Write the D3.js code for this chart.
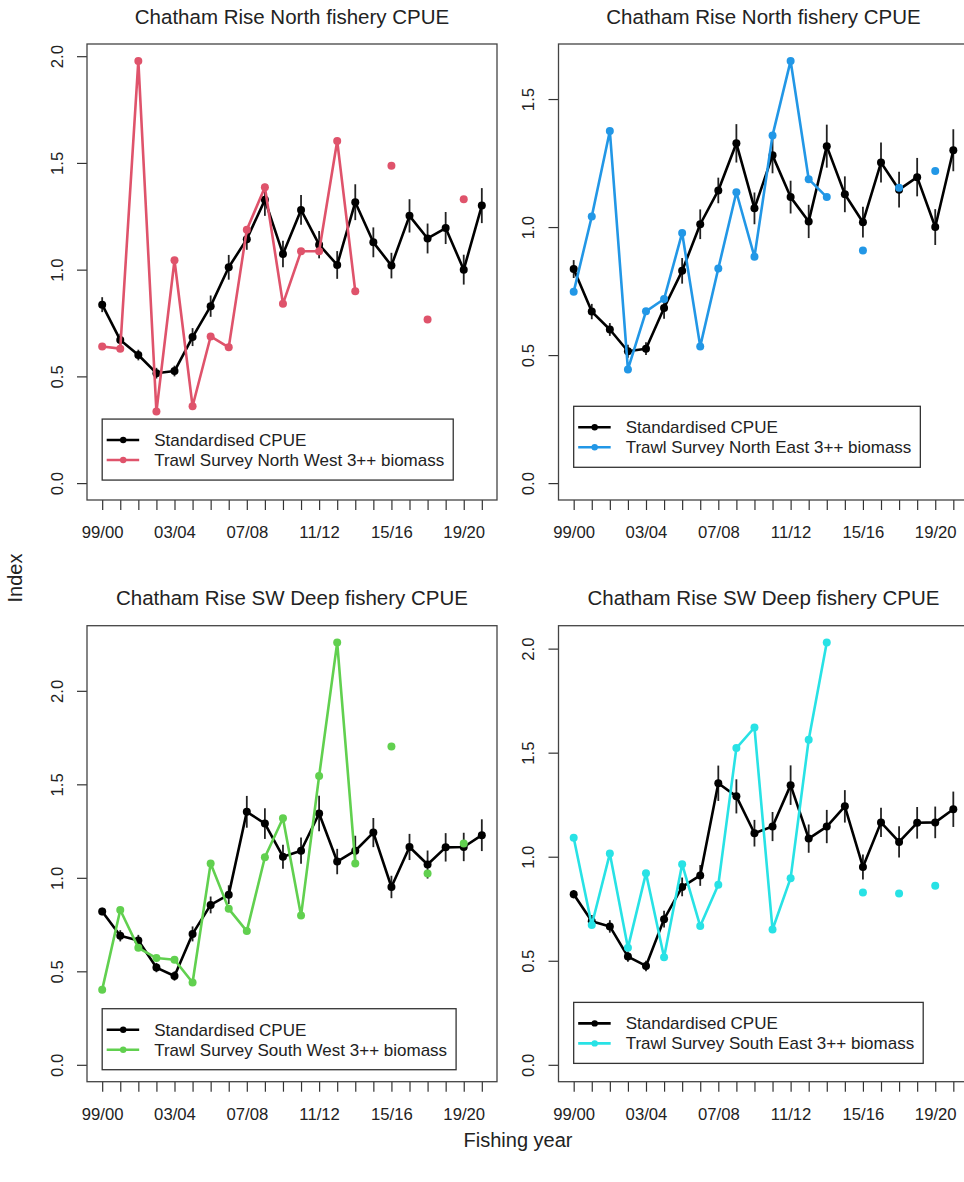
<!DOCTYPE html>
<html>
<head>
<meta charset="utf-8">
<script src="https://cdn.jsdelivr.net/npm/d3@7"></script>
<style>
  body { margin: 0; background: #fff; }
  svg { font-family: 'Liberation Sans', Arial, sans-serif; }
</style>
</head>
<body>
<div id="chart"></div>
<script>
// fishing years on the x axis
const years = ['99/00', '00/01', '01/02', '02/03', '03/04', '04/05', '05/06', '06/07',
  '07/08', '08/09', '09/10', '10/11', '11/12', '12/13', '13/14', '14/15', '15/16',
  '16/17', '17/18', '18/19', '19/20', '20/21'];

// standardised CPUE and half-width of the error bars
const northCpue = [0.836, 0.67, 0.60, 0.515, 0.525, 0.684, 0.829, 1.011, 1.143, 1.327, 1.073,
  1.280, 1.117, 1.022, 1.316, 1.128, 1.019, 1.252, 1.146, 1.195, 1.0, 1.300];
const northCpueCi = [0.035, 0.03, 0.025, 0.025, 0.025, 0.042, 0.05, 0.058, 0.05, 0.075, 0.062,
  0.07, 0.064, 0.065, 0.084, 0.07, 0.06, 0.078, 0.07, 0.075, 0.07, 0.082];
const swDeepCpue = [0.82, 0.69, 0.665, 0.52, 0.475, 0.70, 0.855, 0.91, 1.353, 1.29, 1.113,
  1.145, 1.344, 1.087, 1.145, 1.242, 0.951, 1.165, 1.071, 1.163, 1.165, 1.228];
const swDeepCpueCi = [0.02, 0.03, 0.03, 0.025, 0.025, 0.04, 0.045, 0.05, 0.085, 0.082, 0.064,
  0.07, 0.095, 0.068, 0.08, 0.078, 0.06, 0.07, 0.075, 0.076, 0.076, 0.085];

// trawl survey 3++ biomass indices (null = no survey)
const surveyNW = [0.64, 0.63, 1.978, 0.335, 1.044, 0.36, 0.687, 0.636, 1.187, 1.386, 0.840,
  1.086, 1.086, 1.603, 0.899, null, 1.487, null, 0.766, null, 1.330, null];
const surveyNE = [0.747, 1.041, 1.375, 0.444, 0.671, 0.719, 0.977, 0.534, 0.838, 1.136, 0.884,
  1.358, 1.649, 1.187, 1.117, null, 0.908, null, 1.154, null, 1.219, null];
const surveySW = [0.402, 0.828, 0.626, 0.571, 0.562, 0.440, 1.077, 0.834, 0.715, 1.11, 1.319,
  0.798, 1.544, 2.258, 1.077, null, 1.702, null, 1.023, null, 1.183, null];
const surveySE = [1.091, 0.672, 1.015, 0.562, 0.921, 0.517, 0.964, 0.667, 0.865, 1.522, 1.621,
  0.650, 0.897, 1.562, 2.029, null, 0.828, null, 0.823, null, 0.860, null];

const cpueLabel = 'Standardised CPUE';

const panels = [
  { title: 'Chatham Rise North fishery CPUE', cpue: northCpue, ci: northCpueCi, survey: surveyNW,
    label: 'Trawl Survey North West 3++ biomass', color: '#DF536B', left: 87, top: 44 },
  { title: 'Chatham Rise North fishery CPUE', cpue: northCpue, ci: northCpueCi, survey: surveyNE,
    label: 'Trawl Survey North East 3++ biomass', color: '#2297E6', left: 558.5, top: 44 },
  { title: 'Chatham Rise SW Deep fishery CPUE', cpue: swDeepCpue, ci: swDeepCpueCi, survey: surveySW,
    label: 'Trawl Survey South West 3++ biomass', color: '#61D04F', left: 87, top: 625.7 },
  { title: 'Chatham Rise SW Deep fishery CPUE', cpue: swDeepCpue, ci: swDeepCpueCi, survey: surveySE,
    label: 'Trawl Survey South East 3++ biomass', color: '#28E2E5', left: 558.5, top: 625.7 }
];

const width = 964, height = 1182;
const boxW = 410, boxH = 456;
const textCol = '#222';

const svg = d3.select('#chart').append('svg')
  .attr('width', width)
  .attr('height', height);

svg.append('rect').attr('width', width).attr('height', height).attr('fill', '#fff');

const n = years.length;
const pad = 0.04 * (n - 1);

panels.forEach(p => {
  const g = svg.append('g').attr('transform', 'translate(' + p.left + ',' + p.top + ')');

  const yMax = d3.max(p.cpue.concat(p.survey.filter(v => v != null)));
  const x = d3.scaleLinear().domain([-pad, n - 1 + pad]).range([0, boxW]);
  const y = d3.scaleLinear().domain([-0.04 * yMax, 1.04 * yMax]).range([boxH, 0]);

  // title
  g.append('text')
    .attr('x', boxW / 2)
    .attr('y', -20.5)
    .attr('text-anchor', 'middle')
    .attr('font-size', '20.5px')
    .attr('fill', textCol)
    .text(p.title);

  // x axis
  const xAxis = g.append('g')
    .attr('transform', 'translate(0,' + boxH + ')')
    .call(d3.axisBottom(x)
      .tickValues(d3.range(n))
      .tickSize(10)
      .tickPadding(16)
      .tickFormat(i => i % 4 === 0 ? years[i] : ''));
  xAxis.select('.domain').remove();
  xAxis.selectAll('line').attr('stroke', '#333').attr('stroke-width', 1.2);
  xAxis.selectAll('text').attr('font-size', '16.7px').attr('fill', textCol)
    .attr('font-family', "'Liberation Sans', Arial, sans-serif");

  // y axis, labels turned parallel to the axis; ticks run to the top of the box
  const yAxis = g.append('g')
    .call(d3.axisLeft(y)
      .tickValues(d3.range(0, 1.04 * yMax + 1e-9, 0.5))
      .tickSize(10)
      .tickFormat(d3.format('.1f')));
  yAxis.select('.domain').remove();
  yAxis.selectAll('line').attr('stroke', '#333').attr('stroke-width', 1.2);
  yAxis.selectAll('text')
    .attr('x', 0)
    .attr('y', -30)
    .attr('dy', '0.35em')
    .attr('transform', 'rotate(-90)')
    .attr('text-anchor', 'middle')
    .attr('font-size', '16.7px')
    .attr('fill', textCol)
    .attr('font-family', "'Liberation Sans', Arial, sans-serif");

  // plot box
  g.append('rect')
    .attr('width', boxW)
    .attr('height', boxH)
    .attr('fill', 'none')
    .attr('stroke', '#444')
    .attr('stroke-width', 1.3);

  // error bars
  g.append('g').selectAll('line')
    .data(p.cpue)
    .enter().append('line')
    .attr('x1', (d, i) => x(i))
    .attr('x2', (d, i) => x(i))
    .attr('y1', (d, i) => y(d - p.ci[i]))
    .attr('y2', (d, i) => y(d + p.ci[i]))
    .attr('stroke', '#222')
    .attr('stroke-width', 1.8);

  const line = d3.line()
    .defined(d => d != null)
    .x((d, i) => x(i))
    .y(d => y(d));

  // CPUE
  g.append('path')
    .datum(p.cpue)
    .attr('d', line)
    .attr('fill', 'none')
    .attr('stroke', '#000')
    .attr('stroke-width', 2.6)
    .attr('stroke-linejoin', 'round');
  g.append('g').selectAll('circle')
    .data(p.cpue)
    .enter().append('circle')
    .attr('cx', (d, i) => x(i))
    .attr('cy', d => y(d))
    .attr('r', 4)
    .attr('fill', '#000');

  // survey
  g.append('path')
    .datum(p.survey)
    .attr('d', line)
    .attr('fill', 'none')
    .attr('stroke', p.color)
    .attr('stroke-width', 2.6)
    .attr('stroke-linejoin', 'round');
  g.append('g').selectAll('circle')
    .data(p.survey.map((v, i) => ({ i: i, v: v })).filter(d => d.v != null))
    .enter().append('circle')
    .attr('cx', d => x(d.i))
    .attr('cy', d => y(d.v))
    .attr('r', 4)
    .attr('fill', p.color);

  // legend, top-left corner at (first year, 0.3)
  const lg = g.append('g').attr('transform', 'translate(' + x(0) + ',' + y(0.3) + ')');
  const legBox = lg.append('rect')
    .attr('height', 61)
    .attr('fill', '#fff')
    .attr('stroke', '#333')
    .attr('stroke-width', 1.3);
  let textW = 0;
  [{ label: cpueLabel, color: '#000' }, { label: p.label, color: p.color }].forEach((e, k) => {
    const cy = 21 + k * 20;
    lg.append('line')
      .attr('x1', 4.5).attr('x2', 37)
      .attr('y1', cy).attr('y2', cy)
      .attr('stroke', e.color)
      .attr('stroke-width', 2.6);
    lg.append('circle')
      .attr('cx', 21).attr('cy', cy).attr('r', 3.2)
      .attr('fill', e.color);
    const t = lg.append('text')
      .attr('x', 52)
      .attr('y', cy)
      .attr('dy', '0.35em')
      .attr('font-size', '17px')
      .attr('fill', textCol)
      .text(e.label);
    textW = Math.max(textW, t.node().getComputedTextLength());
  });
  legBox.attr('width', 52 + textW + 9);
});

// shared axis titles
svg.append('text')
  .attr('transform', 'translate(22,578) rotate(-90)')
  .attr('text-anchor', 'middle')
  .attr('font-size', '20px')
  .attr('fill', textCol)
  .text('Index');

svg.append('text')
  .attr('x', 518)
  .attr('y', 1147)
  .attr('text-anchor', 'middle')
  .attr('font-size', '20px')
  .attr('fill', textCol)
  .text('Fishing year');
</script>
</body>
</html>
